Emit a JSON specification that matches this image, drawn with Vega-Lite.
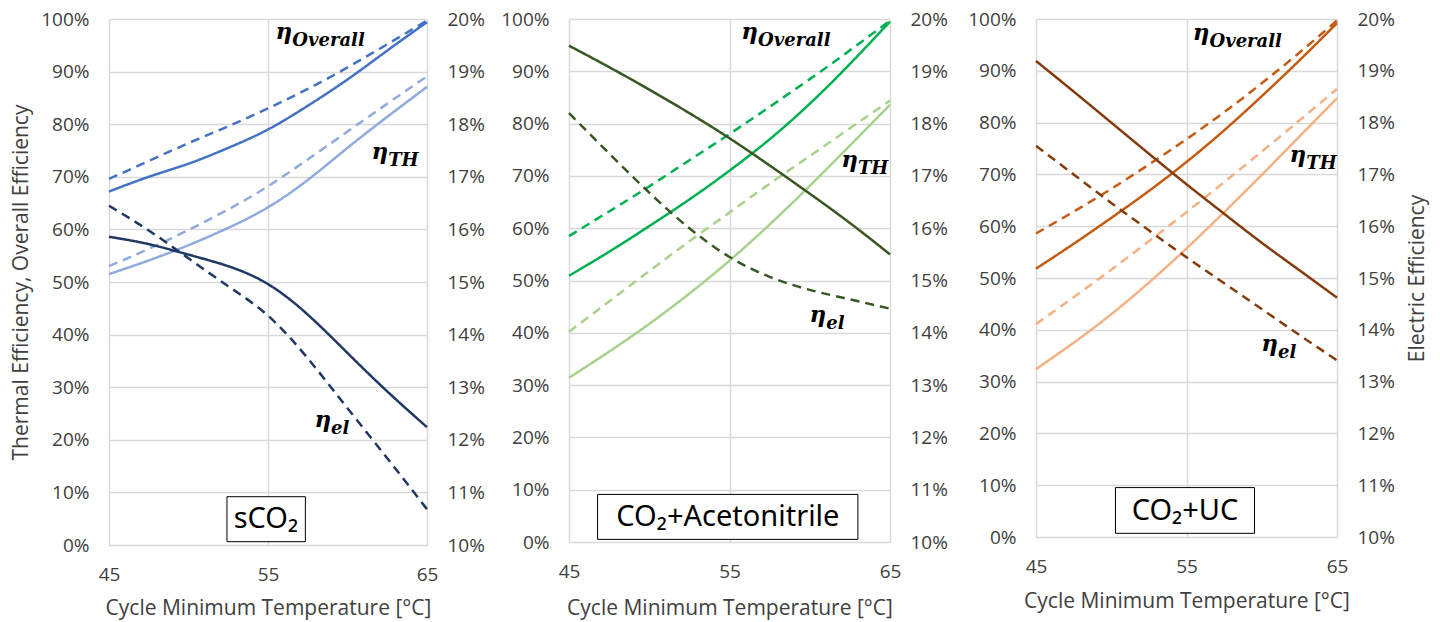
{
  "$schema": "https://vega.github.io/schema/vega-lite/v6.json",
  "background": "white",
  "padding": {"left": 10, "top": 10, "right": 5, "bottom": 5},
  "spacing": 15,
  "config": {
    "view": {"stroke": null},
    "axis": {"labelFont": "Open Sans", "labelFontSize": 19, "labelColor": "#404040", "titleFont": "Open Sans", "titleFontSize": 21, "titleFontWeight": "normal", "titleColor": "#404040", "gridColor": "#D9D9D9", "gridWidth": 1.5, "domain": false, "ticks": false, "tickSize": 0, "labelPadding": 20, "labelFlush": false}
  },
  "resolve": {"scale": {"color": "independent", "strokeDash": "independent"}},
  "datasets": {
    "lines": [
      {"p":"sCO2","s":"overall","c":"solid","T":45,"v":0.672},{"p":"sCO2","s":"overall","c":"solid","T":47.5,"v":0.700},{"p":"sCO2","s":"overall","c":"solid","T":50,"v":0.725},{"p":"sCO2","s":"overall","c":"solid","T":52.5,"v":0.755},{"p":"sCO2","s":"overall","c":"solid","T":55,"v":0.790},{"p":"sCO2","s":"overall","c":"solid","T":57.5,"v":0.835},{"p":"sCO2","s":"overall","c":"solid","T":60,"v":0.885},{"p":"sCO2","s":"overall","c":"solid","T":62.5,"v":0.940},{"p":"sCO2","s":"overall","c":"solid","T":65,"v":0.994},
      {"p":"sCO2","s":"overall","c":"dashed","T":45,"v":0.696},{"p":"sCO2","s":"overall","c":"dashed","T":47.5,"v":0.730},{"p":"sCO2","s":"overall","c":"dashed","T":50,"v":0.764},{"p":"sCO2","s":"overall","c":"dashed","T":52.5,"v":0.796},{"p":"sCO2","s":"overall","c":"dashed","T":55,"v":0.830},{"p":"sCO2","s":"overall","c":"dashed","T":57.5,"v":0.867},{"p":"sCO2","s":"overall","c":"dashed","T":60,"v":0.908},{"p":"sCO2","s":"overall","c":"dashed","T":62.5,"v":0.952},{"p":"sCO2","s":"overall","c":"dashed","T":65,"v":0.997},
      {"p":"sCO2","s":"TH","c":"solid","T":45,"v":0.515},{"p":"sCO2","s":"TH","c":"solid","T":47.5,"v":0.541},{"p":"sCO2","s":"TH","c":"solid","T":50,"v":0.570},{"p":"sCO2","s":"TH","c":"solid","T":52.5,"v":0.603},{"p":"sCO2","s":"TH","c":"solid","T":55,"v":0.642},{"p":"sCO2","s":"TH","c":"solid","T":57.5,"v":0.694},{"p":"sCO2","s":"TH","c":"solid","T":60,"v":0.755},{"p":"sCO2","s":"TH","c":"solid","T":62.5,"v":0.814},{"p":"sCO2","s":"TH","c":"solid","T":65,"v":0.871},
      {"p":"sCO2","s":"TH","c":"dashed","T":45,"v":0.530},{"p":"sCO2","s":"TH","c":"dashed","T":47.5,"v":0.563},{"p":"sCO2","s":"TH","c":"dashed","T":50,"v":0.599},{"p":"sCO2","s":"TH","c":"dashed","T":52.5,"v":0.638},{"p":"sCO2","s":"TH","c":"dashed","T":55,"v":0.682},{"p":"sCO2","s":"TH","c":"dashed","T":57.5,"v":0.733},{"p":"sCO2","s":"TH","c":"dashed","T":60,"v":0.786},{"p":"sCO2","s":"TH","c":"dashed","T":62.5,"v":0.839},{"p":"sCO2","s":"TH","c":"dashed","T":65,"v":0.891},
      {"p":"sCO2","s":"el","c":"solid","T":45,"v":0.1586},{"p":"sCO2","s":"el","c":"solid","T":47.5,"v":0.1572},{"p":"sCO2","s":"el","c":"solid","T":50,"v":0.1552},{"p":"sCO2","s":"el","c":"solid","T":52.5,"v":0.1530},{"p":"sCO2","s":"el","c":"solid","T":55,"v":0.1496},{"p":"sCO2","s":"el","c":"solid","T":57.5,"v":0.1438},{"p":"sCO2","s":"el","c":"solid","T":60,"v":0.1365},{"p":"sCO2","s":"el","c":"solid","T":62.5,"v":0.1292},{"p":"sCO2","s":"el","c":"solid","T":65,"v":0.1224},
      {"p":"sCO2","s":"el","c":"dashed","T":45,"v":0.1645},{"p":"sCO2","s":"el","c":"dashed","T":47.5,"v":0.1598},{"p":"sCO2","s":"el","c":"dashed","T":50,"v":0.1545},{"p":"sCO2","s":"el","c":"dashed","T":52.5,"v":0.1492},{"p":"sCO2","s":"el","c":"dashed","T":55,"v":0.1436},{"p":"sCO2","s":"el","c":"dashed","T":57.5,"v":0.1355},{"p":"sCO2","s":"el","c":"dashed","T":60,"v":0.1260},{"p":"sCO2","s":"el","c":"dashed","T":62.5,"v":0.1165},{"p":"sCO2","s":"el","c":"dashed","T":65,"v":0.1068},

      {"p":"ACN","s":"overall","c":"solid","T":45,"v":0.509},{"p":"ACN","s":"overall","c":"solid","T":47.5,"v":0.555},{"p":"ACN","s":"overall","c":"solid","T":50,"v":0.604},{"p":"ACN","s":"overall","c":"solid","T":52.5,"v":0.655},{"p":"ACN","s":"overall","c":"solid","T":55,"v":0.710},{"p":"ACN","s":"overall","c":"solid","T":57.5,"v":0.770},{"p":"ACN","s":"overall","c":"solid","T":60,"v":0.838},{"p":"ACN","s":"overall","c":"solid","T":62.5,"v":0.914},{"p":"ACN","s":"overall","c":"solid","T":65,"v":0.995},
      {"p":"ACN","s":"overall","c":"dashed","T":45,"v":0.585},{"p":"ACN","s":"overall","c":"dashed","T":47.5,"v":0.632},{"p":"ACN","s":"overall","c":"dashed","T":50,"v":0.680},{"p":"ACN","s":"overall","c":"dashed","T":52.5,"v":0.730},{"p":"ACN","s":"overall","c":"dashed","T":55,"v":0.780},{"p":"ACN","s":"overall","c":"dashed","T":57.5,"v":0.832},{"p":"ACN","s":"overall","c":"dashed","T":60,"v":0.885},{"p":"ACN","s":"overall","c":"dashed","T":62.5,"v":0.940},{"p":"ACN","s":"overall","c":"dashed","T":65,"v":0.997},
      {"p":"ACN","s":"TH","c":"solid","T":45,"v":0.314},{"p":"ACN","s":"TH","c":"solid","T":47.5,"v":0.364},{"p":"ACN","s":"TH","c":"solid","T":50,"v":0.417},{"p":"ACN","s":"TH","c":"solid","T":52.5,"v":0.475},{"p":"ACN","s":"TH","c":"solid","T":55,"v":0.538},{"p":"ACN","s":"TH","c":"solid","T":57.5,"v":0.607},{"p":"ACN","s":"TH","c":"solid","T":60,"v":0.681},{"p":"ACN","s":"TH","c":"solid","T":62.5,"v":0.758},{"p":"ACN","s":"TH","c":"solid","T":65,"v":0.836},
      {"p":"ACN","s":"TH","c":"dashed","T":45,"v":0.402},{"p":"ACN","s":"TH","c":"dashed","T":47.5,"v":0.460},{"p":"ACN","s":"TH","c":"dashed","T":50,"v":0.518},{"p":"ACN","s":"TH","c":"dashed","T":52.5,"v":0.575},{"p":"ACN","s":"TH","c":"dashed","T":55,"v":0.630},{"p":"ACN","s":"TH","c":"dashed","T":57.5,"v":0.685},{"p":"ACN","s":"TH","c":"dashed","T":60,"v":0.738},{"p":"ACN","s":"TH","c":"dashed","T":62.5,"v":0.791},{"p":"ACN","s":"TH","c":"dashed","T":65,"v":0.844},
      {"p":"ACN","s":"el","c":"solid","T":45,"v":0.1949},{"p":"ACN","s":"el","c":"solid","T":47.5,"v":0.1908},{"p":"ACN","s":"el","c":"solid","T":50,"v":0.1865},{"p":"ACN","s":"el","c":"solid","T":52.5,"v":0.1820},{"p":"ACN","s":"el","c":"solid","T":55,"v":0.1772},{"p":"ACN","s":"el","c":"solid","T":57.5,"v":0.1720},{"p":"ACN","s":"el","c":"solid","T":60,"v":0.1666},{"p":"ACN","s":"el","c":"solid","T":62.5,"v":0.1610},{"p":"ACN","s":"el","c":"solid","T":65,"v":0.1550},
      {"p":"ACN","s":"el","c":"dashed","T":45,"v":0.1820},{"p":"ACN","s":"el","c":"dashed","T":47.5,"v":0.1743},{"p":"ACN","s":"el","c":"dashed","T":50,"v":0.1668},{"p":"ACN","s":"el","c":"dashed","T":52.5,"v":0.1600},{"p":"ACN","s":"el","c":"dashed","T":55,"v":0.1545},{"p":"ACN","s":"el","c":"dashed","T":57.5,"v":0.1507},{"p":"ACN","s":"el","c":"dashed","T":60,"v":0.1482},{"p":"ACN","s":"el","c":"dashed","T":62.5,"v":0.1464},{"p":"ACN","s":"el","c":"dashed","T":65,"v":0.1446},

      {"p":"UC","s":"overall","c":"solid","T":45,"v":0.518},{"p":"UC","s":"overall","c":"solid","T":47.5,"v":0.566},{"p":"UC","s":"overall","c":"solid","T":50,"v":0.616},{"p":"UC","s":"overall","c":"solid","T":52.5,"v":0.668},{"p":"UC","s":"overall","c":"solid","T":55,"v":0.724},{"p":"UC","s":"overall","c":"solid","T":57.5,"v":0.785},{"p":"UC","s":"overall","c":"solid","T":60,"v":0.851},{"p":"UC","s":"overall","c":"solid","T":62.5,"v":0.920},{"p":"UC","s":"overall","c":"solid","T":65,"v":0.992},
      {"p":"UC","s":"overall","c":"dashed","T":45,"v":0.586},{"p":"UC","s":"overall","c":"dashed","T":47.5,"v":0.628},{"p":"UC","s":"overall","c":"dashed","T":50,"v":0.672},{"p":"UC","s":"overall","c":"dashed","T":52.5,"v":0.719},{"p":"UC","s":"overall","c":"dashed","T":55,"v":0.768},{"p":"UC","s":"overall","c":"dashed","T":57.5,"v":0.820},{"p":"UC","s":"overall","c":"dashed","T":60,"v":0.876},{"p":"UC","s":"overall","c":"dashed","T":62.5,"v":0.935},{"p":"UC","s":"overall","c":"dashed","T":65,"v":0.997},
      {"p":"UC","s":"TH","c":"solid","T":45,"v":0.324},{"p":"UC","s":"TH","c":"solid","T":47.5,"v":0.375},{"p":"UC","s":"TH","c":"solid","T":50,"v":0.430},{"p":"UC","s":"TH","c":"solid","T":52.5,"v":0.491},{"p":"UC","s":"TH","c":"solid","T":55,"v":0.557},{"p":"UC","s":"TH","c":"solid","T":57.5,"v":0.627},{"p":"UC","s":"TH","c":"solid","T":60,"v":0.699},{"p":"UC","s":"TH","c":"solid","T":62.5,"v":0.773},{"p":"UC","s":"TH","c":"solid","T":65,"v":0.847},
      {"p":"UC","s":"TH","c":"dashed","T":45,"v":0.411},{"p":"UC","s":"TH","c":"dashed","T":47.5,"v":0.463},{"p":"UC","s":"TH","c":"dashed","T":50,"v":0.516},{"p":"UC","s":"TH","c":"dashed","T":52.5,"v":0.571},{"p":"UC","s":"TH","c":"dashed","T":55,"v":0.627},{"p":"UC","s":"TH","c":"dashed","T":57.5,"v":0.685},{"p":"UC","s":"TH","c":"dashed","T":60,"v":0.744},{"p":"UC","s":"TH","c":"dashed","T":62.5,"v":0.804},{"p":"UC","s":"TH","c":"dashed","T":65,"v":0.865},
      {"p":"UC","s":"el","c":"solid","T":45,"v":0.1919},{"p":"UC","s":"el","c":"solid","T":47.5,"v":0.1860},{"p":"UC","s":"el","c":"solid","T":50,"v":0.1800},{"p":"UC","s":"el","c":"solid","T":52.5,"v":0.1740},{"p":"UC","s":"el","c":"solid","T":55,"v":0.1681},{"p":"UC","s":"el","c":"solid","T":57.5,"v":0.1624},{"p":"UC","s":"el","c":"solid","T":60,"v":0.1568},{"p":"UC","s":"el","c":"solid","T":62.5,"v":0.1515},{"p":"UC","s":"el","c":"solid","T":65,"v":0.1462},
      {"p":"UC","s":"el","c":"dashed","T":45,"v":0.1755},{"p":"UC","s":"el","c":"dashed","T":47.5,"v":0.1700},{"p":"UC","s":"el","c":"dashed","T":50,"v":0.1645},{"p":"UC","s":"el","c":"dashed","T":52.5,"v":0.1592},{"p":"UC","s":"el","c":"dashed","T":55,"v":0.1540},{"p":"UC","s":"el","c":"dashed","T":57.5,"v":0.1490},{"p":"UC","s":"el","c":"dashed","T":60,"v":0.1440},{"p":"UC","s":"el","c":"dashed","T":62.5,"v":0.1390},{"p":"UC","s":"el","c":"dashed","T":65,"v":0.1341}
    ],
    "labels": [
      {"p":"sCO2","T":56.53,"v":0.962,"m":"η","sub":"Overall"},
      {"p":"sCO2","T":62.56,"v":0.734,"m":"η","sub":"TH"},
      {"p":"sCO2","T":58.97,"v":0.224,"m":"η","sub":"el"},
      {"p":"ACN","T":56.78,"v":0.962,"m":"η","sub":"Overall"},
      {"p":"ACN","T":63.0,"v":0.717,"m":"η","sub":"TH"},
      {"p":"ACN","T":61.03,"v":0.42,"m":"η","sub":"el"},
      {"p":"UC","T":56.53,"v":0.959,"m":"η","sub":"Overall"},
      {"p":"UC","T":62.96,"v":0.724,"m":"η","sub":"TH"},
      {"p":"UC","T":61.08,"v":0.359,"m":"η","sub":"el"}
    ],
    "boxes": [
      {"p":"sCO2","T":52.42,"T2":57.35,"v":0.0063,"v2":0.0918,"Tc":54.87,"vc":0.049,"label":"sCO₂"},
      {"p":"ACN","T":46.78,"T2":63.0,"v":0.005,"v2":0.091,"Tc":54.9,"vc":0.048,"label":"CO₂+Acetonitrile"},
      {"p":"UC","T":50.28,"T2":59.52,"v":0.0071,"v2":0.0954,"Tc":54.9,"vc":0.051,"label":"CO₂+UC"}
    ]
  },
  "hconcat": [
    {
      "width": 318, "height": 526,
      "resolve": {"scale": {"y": "independent"}},
      "layer": [
        {
          "layer": [
            {
              "data": {"name": "lines"},
              "transform": [{"filter": "datum.p === 'sCO2' && datum.s !== 'el'"}],
              "mark": {"type": "line", "strokeWidth": 2.5, "interpolate": "natural"},
              "encoding": {
                "x": {"field": "T", "type": "quantitative", "scale": {"domain": [45, 65], "nice": false, "zero": false}, "axis": {"values": [45, 55, 65], "format": "d", "grid": true, "title": "Cycle Minimum Temperature [°C]", "titlePadding": 13}},
                "y": {"field": "v", "type": "quantitative", "scale": {"domain": [0, 1], "nice": false}, "axis": {"values": [0,0.1,0.2,0.3,0.4,0.5,0.6,0.7,0.8,0.9,1], "format": ".0%", "grid": true, "title": "Thermal Efficiency, Overall Efficiency", "titlePadding": 9}},
                "color": {"field": "s", "type": "nominal", "scale": {"domain": ["overall", "TH", "el"], "range": ["#4472C4", "#8FAADC", "#203864"]}, "legend": null},
                "strokeDash": {"field": "c", "type": "nominal", "scale": {"domain": ["solid", "dashed"], "range": [[1, 0], [9, 6]]}, "legend": null},
                "detail": {"field": "c"}
              }
            },
            {
              "data": {"name": "boxes"},
              "transform": [{"filter": "datum.p === 'sCO2'"}],
              "mark": {"type": "rect", "fill": "white", "stroke": "black", "strokeWidth": 1},
              "encoding": {"x": {"field": "T", "type": "quantitative"}, "x2": {"field": "T2"}, "y": {"field": "v", "type": "quantitative"}, "y2": {"field": "v2"}}
            },
            {
              "data": {"name": "boxes"},
              "transform": [{"filter": "datum.p === 'sCO2'"}],
              "mark": {"type": "text", "font": "Noto Sans", "fontSize": 29, "color": "black", "align": "center", "baseline": "middle"},
              "encoding": {"x": {"field": "Tc", "type": "quantitative"}, "y": {"field": "vc", "type": "quantitative"}, "text": {"field": "label"}}
            },
            {
              "data": {"name": "labels"},
              "transform": [{"filter": "datum.p === 'sCO2'"}],
              "mark": {"type": "text", "font": "DejaVu Serif", "fontStyle": "italic", "fontWeight": "bold", "fontSize": 23, "color": "black", "align": "right", "baseline": "alphabetic"},
              "encoding": {"x": {"field": "T", "type": "quantitative"}, "y": {"field": "v", "type": "quantitative"}, "text": {"field": "m"}}
            },
            {
              "data": {"name": "labels"},
              "transform": [{"filter": "datum.p === 'sCO2'"}],
              "mark": {"type": "text", "font": "DejaVu Serif", "fontStyle": "italic", "fontWeight": "bold", "fontSize": 18, "color": "black", "align": "left", "baseline": "alphabetic", "dy": 7},
              "encoding": {"x": {"field": "T", "type": "quantitative"}, "y": {"field": "v", "type": "quantitative"}, "text": {"field": "sub"}}
            }
          ]
        },
        {
          "data": {"name": "lines"},
          "transform": [{"filter": "datum.p === 'sCO2' && datum.s === 'el'"}],
          "mark": {"type": "line", "strokeWidth": 2.5, "interpolate": "natural"},
          "encoding": {
            "x": {"field": "T", "type": "quantitative"},
            "y": {"field": "v", "type": "quantitative", "scale": {"domain": [0.1, 0.2], "nice": false, "zero": false}, "axis": {"orient": "right", "values": [0.1,0.11,0.12,0.13,0.14,0.15,0.16,0.17,0.18,0.19,0.2], "format": ".0%", "grid": false, "title": null}},
            "color": {"field": "s", "type": "nominal", "scale": {"domain": ["overall", "TH", "el"], "range": ["#4472C4", "#8FAADC", "#203864"]}, "legend": null},
            "strokeDash": {"field": "c", "type": "nominal", "scale": {"domain": ["solid", "dashed"], "range": [[1, 0], [9, 6]]}, "legend": null},
            "detail": {"field": "c"}
          }
        }
      ]
    },
    {
      "width": 321, "height": 523,
      "resolve": {"scale": {"y": "independent"}},
      "layer": [
        {
          "layer": [
            {
              "data": {"name": "lines"},
              "transform": [{"filter": "datum.p === 'ACN' && datum.s !== 'el'"}],
              "mark": {"type": "line", "strokeWidth": 2.5, "interpolate": "natural"},
              "encoding": {
                "x": {"field": "T", "type": "quantitative", "scale": {"domain": [45, 65], "nice": false, "zero": false}, "axis": {"values": [45, 55, 65], "format": "d", "grid": true, "title": "Cycle Minimum Temperature [°C]", "titlePadding": 16}},
                "y": {"field": "v", "type": "quantitative", "scale": {"domain": [0, 1], "nice": false}, "axis": {"values": [0,0.1,0.2,0.3,0.4,0.5,0.6,0.7,0.8,0.9,1], "format": ".0%", "grid": true, "title": null}},
                "color": {"field": "s", "type": "nominal", "scale": {"domain": ["overall", "TH", "el"], "range": ["#00B050", "#A9D18E", "#385723"]}, "legend": null},
                "strokeDash": {"field": "c", "type": "nominal", "scale": {"domain": ["solid", "dashed"], "range": [[1, 0], [9, 6]]}, "legend": null},
                "detail": {"field": "c"}
              }
            },
            {
              "data": {"name": "boxes"},
              "transform": [{"filter": "datum.p === 'ACN'"}],
              "mark": {"type": "rect", "fill": "white", "stroke": "black", "strokeWidth": 1},
              "encoding": {"x": {"field": "T", "type": "quantitative"}, "x2": {"field": "T2"}, "y": {"field": "v", "type": "quantitative"}, "y2": {"field": "v2"}}
            },
            {
              "data": {"name": "boxes"},
              "transform": [{"filter": "datum.p === 'ACN'"}],
              "mark": {"type": "text", "font": "Noto Sans", "fontSize": 29, "color": "black", "align": "center", "baseline": "middle"},
              "encoding": {"x": {"field": "Tc", "type": "quantitative"}, "y": {"field": "vc", "type": "quantitative"}, "text": {"field": "label"}}
            },
            {
              "data": {"name": "labels"},
              "transform": [{"filter": "datum.p === 'ACN'"}],
              "mark": {"type": "text", "font": "DejaVu Serif", "fontStyle": "italic", "fontWeight": "bold", "fontSize": 23, "color": "black", "align": "right", "baseline": "alphabetic"},
              "encoding": {"x": {"field": "T", "type": "quantitative"}, "y": {"field": "v", "type": "quantitative"}, "text": {"field": "m"}}
            },
            {
              "data": {"name": "labels"},
              "transform": [{"filter": "datum.p === 'ACN'"}],
              "mark": {"type": "text", "font": "DejaVu Serif", "fontStyle": "italic", "fontWeight": "bold", "fontSize": 18, "color": "black", "align": "left", "baseline": "alphabetic", "dy": 7},
              "encoding": {"x": {"field": "T", "type": "quantitative"}, "y": {"field": "v", "type": "quantitative"}, "text": {"field": "sub"}}
            }
          ]
        },
        {
          "data": {"name": "lines"},
          "transform": [{"filter": "datum.p === 'ACN' && datum.s === 'el'"}],
          "mark": {"type": "line", "strokeWidth": 2.5, "interpolate": "natural"},
          "encoding": {
            "x": {"field": "T", "type": "quantitative"},
            "y": {"field": "v", "type": "quantitative", "scale": {"domain": [0.1, 0.2], "nice": false, "zero": false}, "axis": {"orient": "right", "values": [0.1,0.11,0.12,0.13,0.14,0.15,0.16,0.17,0.18,0.19,0.2], "format": ".0%", "grid": false, "title": null}},
            "color": {"field": "s", "type": "nominal", "scale": {"domain": ["overall", "TH", "el"], "range": ["#00B050", "#A9D18E", "#385723"]}, "legend": null},
            "strokeDash": {"field": "c", "type": "nominal", "scale": {"domain": ["solid", "dashed"], "range": [[1, 0], [9, 6]]}, "legend": null},
            "detail": {"field": "c"}
          }
        }
      ]
    },
    {
      "width": 301, "height": 518,
      "resolve": {"scale": {"y": "independent"}},
      "layer": [
        {
          "layer": [
            {
              "data": {"name": "lines"},
              "transform": [{"filter": "datum.p === 'UC' && datum.s !== 'el'"}],
              "mark": {"type": "line", "strokeWidth": 2.5, "interpolate": "natural"},
              "encoding": {
                "x": {"field": "T", "type": "quantitative", "scale": {"domain": [45, 65], "nice": false, "zero": false}, "axis": {"values": [45, 55, 65], "format": "d", "grid": true, "title": "Cycle Minimum Temperature [°C]", "titlePadding": 14}},
                "y": {"field": "v", "type": "quantitative", "scale": {"domain": [0, 1], "nice": false}, "axis": {"values": [0,0.1,0.2,0.3,0.4,0.5,0.6,0.7,0.8,0.9,1], "format": ".0%", "grid": true, "title": null, "minExtent": 73}},
                "color": {"field": "s", "type": "nominal", "scale": {"domain": ["overall", "TH", "el"], "range": ["#C55A11", "#F4B183", "#843C0C"]}, "legend": null},
                "strokeDash": {"field": "c", "type": "nominal", "scale": {"domain": ["solid", "dashed"], "range": [[1, 0], [9, 6]]}, "legend": null},
                "detail": {"field": "c"}
              }
            },
            {
              "data": {"name": "boxes"},
              "transform": [{"filter": "datum.p === 'UC'"}],
              "mark": {"type": "rect", "fill": "white", "stroke": "black", "strokeWidth": 1},
              "encoding": {"x": {"field": "T", "type": "quantitative"}, "x2": {"field": "T2"}, "y": {"field": "v", "type": "quantitative"}, "y2": {"field": "v2"}}
            },
            {
              "data": {"name": "boxes"},
              "transform": [{"filter": "datum.p === 'UC'"}],
              "mark": {"type": "text", "font": "Noto Sans", "fontSize": 29, "color": "black", "align": "center", "baseline": "middle"},
              "encoding": {"x": {"field": "Tc", "type": "quantitative"}, "y": {"field": "vc", "type": "quantitative"}, "text": {"field": "label"}}
            },
            {
              "data": {"name": "labels"},
              "transform": [{"filter": "datum.p === 'UC'"}],
              "mark": {"type": "text", "font": "DejaVu Serif", "fontStyle": "italic", "fontWeight": "bold", "fontSize": 23, "color": "black", "align": "right", "baseline": "alphabetic"},
              "encoding": {"x": {"field": "T", "type": "quantitative"}, "y": {"field": "v", "type": "quantitative"}, "text": {"field": "m"}}
            },
            {
              "data": {"name": "labels"},
              "transform": [{"filter": "datum.p === 'UC'"}],
              "mark": {"type": "text", "font": "DejaVu Serif", "fontStyle": "italic", "fontWeight": "bold", "fontSize": 18, "color": "black", "align": "left", "baseline": "alphabetic", "dy": 7},
              "encoding": {"x": {"field": "T", "type": "quantitative"}, "y": {"field": "v", "type": "quantitative"}, "text": {"field": "sub"}}
            }
          ]
        },
        {
          "data": {"name": "lines"},
          "transform": [{"filter": "datum.p === 'UC' && datum.s === 'el'"}],
          "mark": {"type": "line", "strokeWidth": 2.5, "interpolate": "natural"},
          "encoding": {
            "x": {"field": "T", "type": "quantitative"},
            "y": {"field": "v", "type": "quantitative", "scale": {"domain": [0.1, 0.2], "nice": false, "zero": false}, "axis": {"orient": "right", "values": [0.1,0.11,0.12,0.13,0.14,0.15,0.16,0.17,0.18,0.19,0.2], "format": ".0%", "grid": false, "title": "Electric Efficiency", "titlePadding": 12, "titleAngle": 270, "titleBaseline": "top"}},
            "color": {"field": "s", "type": "nominal", "scale": {"domain": ["overall", "TH", "el"], "range": ["#C55A11", "#F4B183", "#843C0C"]}, "legend": null},
            "strokeDash": {"field": "c", "type": "nominal", "scale": {"domain": ["solid", "dashed"], "range": [[1, 0], [9, 6]]}, "legend": null},
            "detail": {"field": "c"}
          }
        }
      ]
    }
  ]
}
